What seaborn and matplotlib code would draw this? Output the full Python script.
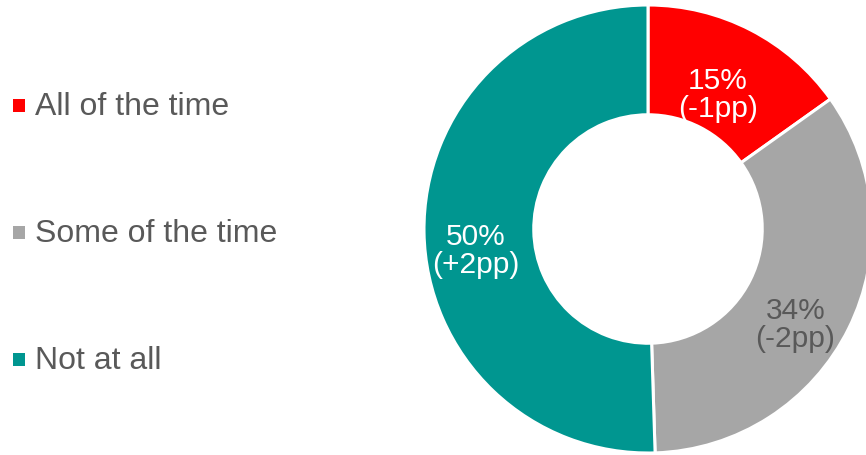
import matplotlib
matplotlib.use("Agg")
import matplotlib.pyplot as plt
from matplotlib.patches import Rectangle
import seaborn as sns
import numpy as np

# ---- data ----
categories = ["All of the time", "Some of the time", "Not at all"]
shares = [15, 34, 50]
changes = ["-1pp", "-2pp", "+2pp"]
colors = ["#FF0000", "#A6A6A6", "#009690"]
label_colors = ["#FFFFFF", "#595959", "#FFFFFF"]

sns.set_theme(style="white")
plt.rcParams["font.family"] = ["Liberation Sans", "DejaVu Sans"]

W, H = 866, 455
fig = plt.figure(figsize=(W / 100, H / 100), dpi=100)

# pie axes: centre (648, 229) px, radius 224 px
cx, cy, R = 648, 229, 224
ax = fig.add_axes([(cx - R) / W, (H - cy - R) / H, 2 * R / W, 2 * R / H])
wedges, _ = ax.pie(shares, colors=colors, startangle=90, counterclock=False,
                   radius=1.0,
                   wedgeprops=dict(width=0.49, edgecolor="white", linewidth=2.2))
ax.set_xlim(-1, 1)
ax.set_ylim(-1, 1)
ax.set_aspect("equal")
ax.axis("off")

# label placement (angle in degrees, radius fraction)
label_pos = [(62.5, 0.675), (-33.0, 0.785), (187.3, 0.775)]
for (ang, r), s, c, tc in zip(label_pos, shares, changes, label_colors):
    x = r * np.cos(np.radians(ang))
    y = r * np.sin(np.radians(ang))
    ax.text(x, y, f"{s}%\n({c})", ha="center", va="center", multialignment="center",
            fontsize=21.5, color=tc, linespacing=1.0)

# legend
baselines = [115, 242, 369]
for cat, col, b in zip(categories, colors, baselines):
    sq = 12.5
    fig.patches.append(Rectangle(((19 - sq / 2) / W, (H - (b - 9.5) - sq / 2) / H),
                                 sq / W, sq / H, transform=fig.transFigure,
                                 facecolor=col, edgecolor="none"))
    fig.text(35 / W, (H - b) / H, cat, ha="left", va="baseline",
             fontsize=23, color="#595959")

fig.savefig("out.png", dpi=100)
